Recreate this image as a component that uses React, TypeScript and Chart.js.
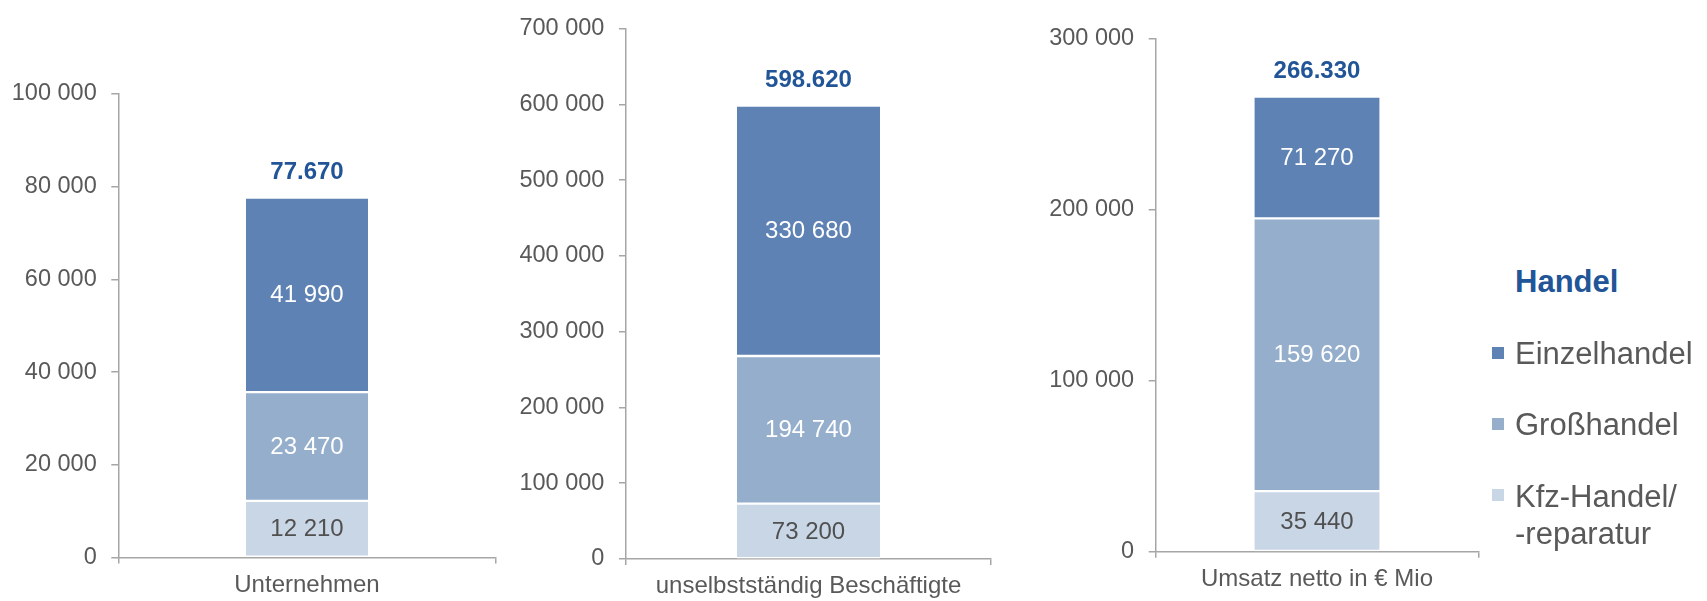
import React, { useEffect, useRef } from "react";
import { Chart, registerables } from "chart.js";

Chart.register(...registerables);

// ---------- data ----------
const categories = ["Unternehmen", "unselbstständig Beschäftigte", "Umsatz netto in € Mio"];
const seriesNames = ["Kfz-Handel/-reparatur", "Großhandel", "Einzelhandel"];
const kfzValues = [12210, 73200, 35440];
const grossValues = [23470, 194740, 159620];
const einzelValues = [41990, 330680, 71270];
const yMaxValues = [100000, 700000, 300000];
const yStepValues = [20000, 100000, 100000];
const legendTitle = "Handel";
const legendLabels = ["Einzelhandel", "Großhandel", "Kfz-Handel/\n-reparatur"];

// ---------- styles ----------
const FONT = "'Liberation Sans', Arial, sans-serif";
const DARK = "#5E82B3";
const MID = "#94AECC";
const LIGHT = "#C9D6E6";
const BLUE = "#215597";
const TEXT = "#595959";
const AXIS = "#A6A6A6";

const layouts = [
  { left: 0, width: 510, axisLeft: 118.3, axisRight: 495.7, top: 94, bottom: 557.5, bar: 122 },
  { left: 510, width: 510, axisLeft: 626, axisRight: 991, top: 21.7, bottom: 559, bar: 143 },
  { left: 1020, width: 480, axisLeft: 1155.7, axisRight: 1478.3, top: 39, bottom: 551.7, bar: 125 },
];
const H = 601;

const fmtSpace = (n: number) => String(Math.round(n)).replace(/\B(?=(\d{3})+(?!\d))/g, " ");
const fmtDot = (n: number) => String(Math.round(n)).replace(/\B(?=(\d{3})+(?!\d))/g, ".");

const labelPlugin = {
  id: "segLabels",
  afterDatasetsDraw(chart: any) {
    const ctx = chart.ctx;
    ctx.save();
    ctx.textAlign = "center";
    ctx.textBaseline = "middle";
    chart.data.datasets.forEach((ds: any, di: number) => {
      const meta = chart.getDatasetMeta(di);
      meta.data.forEach((el: any, i: number) => {
        ctx.font = `24px ${FONT}`;
        ctx.fillStyle = ds.labelColor;
        ctx.fillText(fmtSpace(ds.data[i]), el.x, (el.y + el.base) / 2 + 1);
      });
    });
    const lastMeta = chart.getDatasetMeta(chart.data.datasets.length - 1);
    lastMeta.data.forEach((el: any, i: number) => {
      const total = chart.data.datasets.reduce((s: number, ds: any) => s + ds.data[i], 0);
      ctx.font = `bold 24px ${FONT}`;
      ctx.fillStyle = BLUE;
      ctx.fillText(fmtDot(total), el.x, el.y - 25);
    });
    ctx.restore();
  },
};

function StackChart({ idx }: { idx: number }) {
  const ref = useRef<HTMLCanvasElement>(null);
  const L = layouts[idx];
  useEffect(() => {
    if (!ref.current) return;
    const chart = new Chart(ref.current, {
      type: "bar",
      data: {
        labels: [categories[idx]],
        datasets: [
          { label: seriesNames[0], data: [kfzValues[idx]], backgroundColor: LIGHT, labelColor: "#505050" } as any,
          { label: seriesNames[1], data: [grossValues[idx]], backgroundColor: MID, labelColor: "#FFFFFF" } as any,
          { label: seriesNames[2], data: [einzelValues[idx]], backgroundColor: DARK, labelColor: "#FFFFFF" } as any,
        ],
      },
      options: {
        responsive: false,
        animation: false,
        devicePixelRatio: 1,
        layout: { padding: { left: 0, top: L.top, right: L.left + L.width - L.axisRight, bottom: 0 } },
        plugins: { legend: { display: false }, tooltip: { enabled: false } },
        datasets: {
          bar: {
            barThickness: L.bar,
            borderColor: "#FFFFFF",
            borderWidth: { top: 1.5, bottom: 1.5, left: 0, right: 0 },
            borderSkipped: false,
          },
        },
        scales: {
          x: {
            stacked: true,
            afterFit: (s: any) => { s.height = H - L.bottom; },
            border: { display: true, color: AXIS, width: 1.5 },
            grid: { display: true, drawOnChartArea: false, drawTicks: true, tickLength: 6, color: AXIS, lineWidth: 1.5, offset: true },
            ticks: { color: TEXT, font: { family: FONT, size: 24 }, padding: 7 },
          },
          y: {
            stacked: true,
            min: 0,
            max: yMaxValues[idx],
            afterFit: (s: any) => { s.width = L.axisLeft - L.left; },
            border: { display: true, color: AXIS, width: 1.5 },
            grid: { display: true, drawOnChartArea: false, drawTicks: true, tickLength: 7, color: AXIS, lineWidth: 1.5 },
            ticks: {
              stepSize: yStepValues[idx],
              color: TEXT,
              font: { family: FONT, size: 23.5 },
              padding: 14.6,
              callback: (v: any) => fmtSpace(Number(v)),
            },
          },
        },
      } as any,
      plugins: [labelPlugin],
    });
    return () => chart.destroy();
  }, [idx]);
  return (
    <canvas
      ref={ref}
      width={L.width}
      height={H}
      style={{ position: "absolute", left: L.left, top: 0, width: L.width, height: H }}
    />
  );
}

const legendColors = [DARK, MID, LIGHT];
const legendCenters = [353.5, 424.5, 496];

export default function App() {
  return (
    <div style={{ position: "absolute", left: 0, top: 0, width: 1707, height: 601, background: "#fff", overflow: "hidden" }}>
      <StackChart idx={0} />
      <StackChart idx={1} />
      <StackChart idx={2} />
      <div
        style={{
          position: "absolute", left: 1515, top: 281.7 - 18, height: 36, lineHeight: "36px",
          fontFamily: FONT, fontSize: 31, fontWeight: "bold", color: BLUE, whiteSpace: "nowrap",
        }}
      >
        {legendTitle}
      </div>
      {legendLabels.map((lab, i) => (
        <React.Fragment key={i}>
          <div
            style={{
              position: "absolute", left: 1492, top: legendCenters[i] - 7, width: 12, height: 12,
              background: legendColors[i],
            }}
          />
          <div
            style={{
              position: "absolute", left: 1515, top: legendCenters[i] - 18.5, lineHeight: "37px",
              fontFamily: FONT, fontSize: 31, color: TEXT, whiteSpace: "pre",
            }}
          >
            {lab}
          </div>
        </React.Fragment>
      ))}
    </div>
  );
}
